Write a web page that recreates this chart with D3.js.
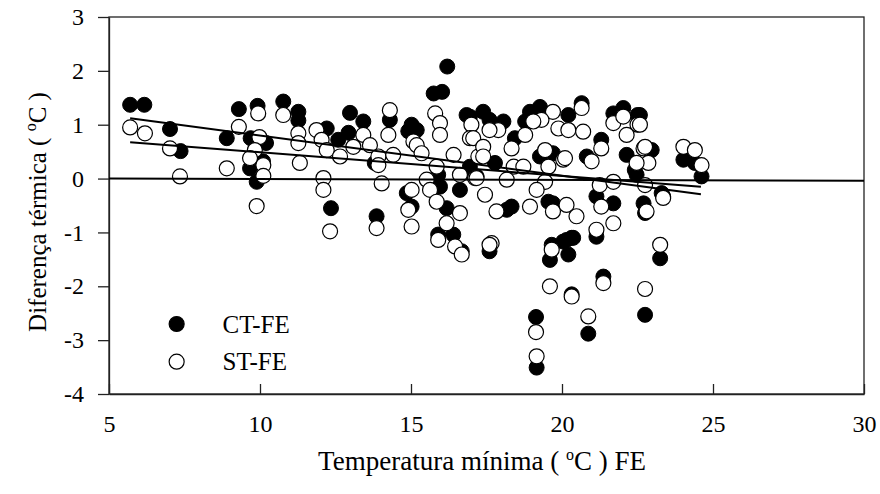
<!DOCTYPE html>
<html>
<head>
<meta charset="utf-8">
<script src="https://cdn.jsdelivr.net/npm/d3@7"></script>
<style>
  body { margin: 0; background: #fff; }
  text { font-family: "Liberation Serif", "Times New Roman", serif; fill: #000; }
</style>
</head>
<body>
<div id="chart"></div>
<script>
const W = 880, H = 494;
const margin = { top: 17, right: 16, bottom: 100, left: 109 };

// CT-FE (filled) points [Tmin FE, difference]
const ctFE = [
  [5.7,1.37],[6.17,1.37],[7.02,0.92],[7.37,0.51],[8.9,0.75],[9.3,1.29],[9.92,1.35],[9.69,0.75],
  [10.2,0.66],[9.67,0.19],[9.89,-0.06],[10.1,0.32],[10.77,1.43],[11.27,1.24],[11.27,1.08],[12.21,0.93],
  [12.35,-0.55],[12.98,1.22],[13.42,1.06],[12.93,0.85],[12.59,0.72],[13.86,-0.7],[13.8,0.29],[14.3,1.09],
  [15.02,1.0],[15.19,0.9],[14.91,0.88],[14.86,-0.27],[15.02,-0.52],[15.75,1.58],[16.03,1.61],[16.2,2.08],
  [15.96,-0.15],[15.9,0.07],[16.84,1.18],[16.62,-0.21],[16.18,-0.55],[16.4,-1.04],[15.9,-1.04],[16.68,-1.35],
  [17.6,-1.35],[17.39,1.24],[16.95,1.15],[19.27,1.33],[18.94,1.24],[20.21,1.18],[20.65,1.4],[22.03,1.31],
  [22.5,1.18],[21.7,1.21],[18.78,1.06],[18.06,1.06],[17.6,1.09],[18.44,0.75],[19.27,0.41],[19.7,0.47],
  [20.82,0.41],[21.3,0.72],[22.14,0.44],[22.97,0.53],[22.41,0.16],[22.47,0.07],[23.3,-0.27],[18.33,-0.52],
  [18.17,-0.58],[19.55,-0.43],[19.7,-0.46],[21.14,-0.33],[21.7,-0.46],[22.7,-0.46],[22.75,-0.64],[21.14,-1.08],
  [20.04,-1.17],[20.32,-1.1],[19.66,-1.23],[16.95,0.22],[17.17,0.04],[17.78,0.29],[19.6,-1.51],[20.15,-1.14],
  [20.37,-1.1],[20.21,-1.41],[21.37,-1.82],[23.25,-1.48],[20.32,-2.15],[20.87,-2.88],[22.75,-2.53],[19.14,-2.57],
  [19.16,-3.51],[22.58,1.18],[22.86,0.53],[23.35,-0.33],[24.02,0.35],[24.4,0.29],[24.62,0.04]
];

// ST-FE (open) points
const stFE = [
  [5.7,0.95],[6.19,0.84],[7.02,0.56],[7.35,0.04],[8.9,0.19],[9.3,0.96],[9.94,1.21],[9.98,0.77],
  [9.83,0.53],[9.67,0.38],[10.11,0.25],[10.11,0.05],[9.89,-0.51],[10.77,1.18],[11.27,0.84],[11.27,0.66],
  [11.32,0.29],[11.87,0.9],[12.04,0.72],[12.21,0.53],[12.65,0.41],[12.1,0.01],[12.1,-0.21],[12.32,-0.98],
  [13.09,0.59],[13.42,0.81],[13.64,0.62],[13.92,0.41],[13.92,0.25],[14.03,-0.09],[13.86,-0.92],[14.3,1.27],
  [14.25,0.81],[14.41,0.44],[15.08,0.69],[15.19,0.62],[15.35,0.47],[15.02,-0.21],[14.91,-0.58],[15.02,-0.89],
  [15.52,-0.02],[15.63,-0.21],[15.85,-0.43],[15.8,1.21],[15.96,1.03],[15.96,0.81],[15.85,0.22],[16.18,-0.83],
  [15.9,-1.14],[16.41,0.44],[16.62,0.07],[16.62,-0.64],[17.0,1.0],[16.95,0.75],[17.12,0.01],[17.23,0.41],
  [19.7,1.24],[20.65,1.31],[21.7,1.03],[22.03,1.15],[22.5,1.0],[19.32,1.09],[19.05,1.06],[19.88,0.93],
  [20.21,0.9],[20.7,0.87],[17.89,0.9],[17.6,0.9],[18.78,0.81],[17.06,0.75],[17.39,0.59],[18.33,0.56],
  [19.44,0.53],[20.04,0.35],[21.3,0.56],[22.14,0.81],[22.7,0.56],[22.86,0.29],[22.47,0.29],[17.39,0.41],
  [18.4,0.22],[18.72,0.22],[19.55,0.22],[20.1,0.38],[20.98,0.32],[17.17,0.01],[18.17,-0.02],[19.44,-0.06],
  [21.25,-0.12],[21.7,-0.06],[17.45,-0.3],[19.16,-0.21],[18.94,-0.52],[17.83,-0.61],[19.7,-0.61],[20.15,-0.49],
  [20.48,-0.7],[21.3,-0.52],[22.8,-0.61],[23.35,-0.36],[21.14,-0.95],[21.7,-0.83],[17.67,-1.2],[23.25,-1.23],
  [16.46,-1.26],[16.68,-1.41],[17.6,-1.23],[19.66,-1.32],[21.37,-1.94],[19.6,-2.0],[20.32,-2.19],[20.87,-2.56],
  [22.75,-2.05],[19.14,-2.85],[19.16,-3.3],[22.58,1.0],[22.75,0.59],[22.75,-0.12],[24.02,0.59],[24.4,0.53],
  [24.62,0.25]
];

// trend lines as drawn in the figure (end points)
const trendA = [[5.7,1.12],[24.6,-0.29]];
const trendB = [[5.7,0.675],[24.6,-0.15]];
const zeroLine = [[5,0],[30,-0.04]];

const xTicks = [5,10,15,20,25,30];
const yTicks = [-4,-3,-2,-1,0,1,2,3];

const svg = d3.select("#chart").append("svg")
  .attr("width", W).attr("height", H);

const x = d3.scaleLinear().domain([5,30]).range([margin.left, W - margin.right]);
const y = d3.scaleLinear().domain([-4,3]).range([H - margin.bottom, margin.top]);

// frame
svg.append("rect")
  .attr("x", margin.left).attr("y", margin.top)
  .attr("width", W - margin.right - margin.left)
  .attr("height", H - margin.bottom - margin.top)
  .attr("fill", "none").attr("stroke", "#222").attr("stroke-width", 1.3);

// axes
const fmt = d => String(d);
const xAxis = d3.axisBottom(x).tickValues(xTicks).tickFormat(fmt)
  .tickSizeInner(-10).tickSizeOuter(0).tickPadding(21);
const yAxis = d3.axisLeft(y).tickValues(yTicks).tickFormat(fmt)
  .tickSizeInner(11).tickSizeOuter(0).tickPadding(14);

const gx = svg.append("g")
  .attr("transform", `translate(0,${H - margin.bottom})`)
  .call(xAxis);
const gy = svg.append("g")
  .attr("transform", `translate(${margin.left},0)`)
  .call(yAxis);

[gx, gy].forEach(g => {
  g.attr("font-family", "Liberation Serif").attr("font-size", 24);
  g.select(".domain").attr("stroke", "#222").attr("stroke-width", 1.3);
  g.selectAll(".tick line").attr("stroke", "#222").attr("stroke-width", 1.3);
  g.selectAll(".tick text").attr("fill", "#000");
});

// points
const r = 7.5;
svg.append("g").selectAll("circle")
  .data(ctFE).join("circle")
  .attr("cx", d => x(d[0])).attr("cy", d => y(d[1])).attr("r", r)
  .attr("fill", "#000").attr("stroke", "#000").attr("stroke-width", 1);

svg.append("g").selectAll("circle")
  .data(stFE).join("circle")
  .attr("cx", d => x(d[0])).attr("cy", d => y(d[1])).attr("r", r)
  .attr("fill", "#fff").attr("stroke", "#000").attr("stroke-width", 1.2);

// lines
const line = d3.line().x(d => x(d[0])).y(d => y(d[1]));
[zeroLine, trendA, trendB].forEach(l => {
  svg.append("path").datum(l)
    .attr("d", line)
    .attr("fill", "none").attr("stroke", "#000").attr("stroke-width", 2);
});

// legend
const legend = [
  { label: "CT-FE", fill: "#000", yv: -2.7 },
  { label: "ST-FE", fill: "#fff", yv: -3.4 }
];
const lg = svg.append("g");
lg.selectAll("circle").data(legend).join("circle")
  .attr("cx", x(7.24)).attr("cy", d => y(d.yv)).attr("r", r)
  .attr("fill", d => d.fill).attr("stroke", "#000").attr("stroke-width", 1.2);
lg.selectAll("text").data(legend).join("text")
  .attr("x", x(8.76)).attr("y", d => y(d.yv)).attr("dy", "0.35em")
  .attr("font-size", 25).text(d => d.label);

// axis titles
const xt = svg.append("text")
  .attr("x", 482)
  .attr("y", 470)
  .attr("text-anchor", "middle").attr("font-size", 27);
xt.append("tspan").text("Temperatura mínima ( ");
xt.append("tspan").attr("font-size", 16).attr("dy", -10).text("o");
xt.append("tspan").attr("dy", 10).text("C ) FE");

const yt = svg.append("text")
  .attr("transform", `translate(46,${212}) rotate(-90)`)
  .attr("text-anchor", "middle").attr("font-size", 25);
yt.append("tspan").text("Diferença térmica ( ");
yt.append("tspan").attr("font-size", 16).attr("dy", -10).text("o");
yt.append("tspan").attr("dy", 10).text("C )");
</script>
</body>
</html>
